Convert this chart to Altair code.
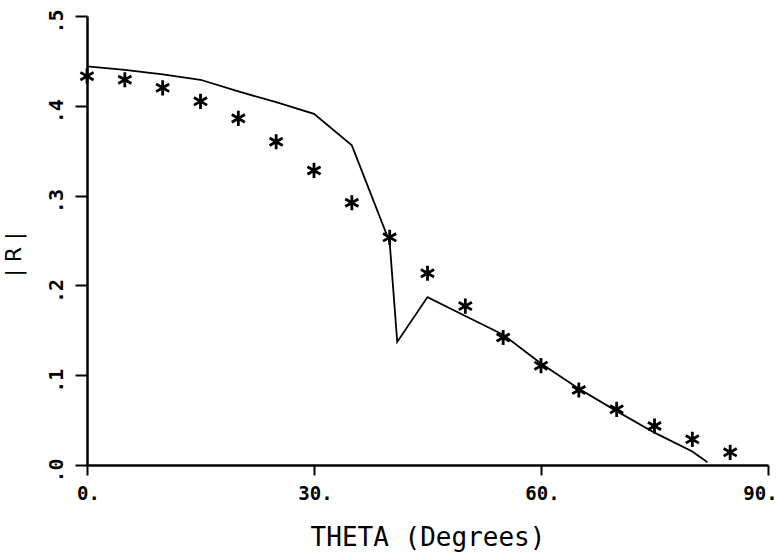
import altair as alt
import pandas as pd

# Curve (solid line)
line_theta = [0, 5, 10, 15, 20, 25, 30, 35, 40, 41, 45, 50, 55, 60, 65, 70, 75, 80, 82]
line_r = [0.444, 0.440, 0.435, 0.429, 0.416, 0.404, 0.391, 0.356, 0.248, 0.137,
          0.187, 0.166, 0.145, 0.113, 0.085, 0.060, 0.036, 0.015, 0.003]

# Asterisk points
pt_theta = [0, 5, 10, 15, 20, 25, 30, 35, 40, 45, 50, 55, 60, 65, 70, 75, 80, 85]
pt_r = [0.433, 0.429, 0.420, 0.405, 0.386, 0.360, 0.328, 0.292, 0.2535, 0.2135,
        0.177, 0.142, 0.1106, 0.0835, 0.062, 0.0434, 0.0286, 0.0141]

x_ticks = [0, 30, 60, 90]
y_ticks = [0, 0.1, 0.2, 0.3, 0.4, 0.5]

line_df = pd.DataFrame({"theta": line_theta, "r": line_r})
pt_df = pd.DataFrame({"theta": pt_theta, "r": pt_r})

FONT = "DejaVu Sans Mono"

x_enc = alt.X(
    "theta:Q",
    scale=alt.Scale(domain=[0, 90], nice=False, zero=False),
    axis=alt.Axis(
        values=x_ticks,
        labelExpr="datum.value + '.'",
        labelFlush=False,
        title="THETA  (Degrees)",
        titleFont=FONT, titleFontSize=26, titleFontWeight="normal",
        titleColor="black", titlePadding=21,
        labelFont=FONT, labelFontSize=19, labelFontWeight="bold", labelColor="black",
        labelPadding=9,
        labelOffset={"condition": {"test": "datum.value == 90", "value": -8}, "value": 1},
        tickSize=10, tickWidth=2, tickColor="black",
        domainColor="black", domainWidth=2.5,
        grid=False,
    ),
)
y_enc = alt.Y(
    "r:Q",
    scale=alt.Scale(domain=[0, 0.5], nice=False, zero=False),
    axis=alt.Axis(
        values=y_ticks,
        labelExpr="replace(format(datum.value, '.1f'), '0.', '.')",
        labelFlush=False,
        title="| R |",
        titleFont="DejaVu Sans", titleFontSize=22, titleFontWeight="normal",
        titleColor="black", titleX=-62, titleY=238,
        labelFont=FONT, labelFontSize=20, labelFontWeight="bold", labelColor="black",
        labelAngle=270, labelPadding=9, labelOffset=5,
        tickSize=12, tickWidth=2, tickColor="black",
        domainColor="black", domainWidth=2.5,
        grid=False,
    ),
)

line = alt.Chart(line_df).mark_line(color="black", strokeWidth=1.8).encode(
    x=x_enc, y=y_enc, order="theta:Q"
)

star_path = "M0,-1L0,1M-0.866,-0.5L0.866,0.5M-0.866,0.5L0.866,-0.5"
points = alt.Chart(pt_df).mark_point(
    shape=star_path, filled=False, stroke="black", strokeWidth=2.8, size=230, opacity=1
).encode(x="theta:Q", y="r:Q")

chart = (
    alt.layer(line, points)
    .properties(
        width=681,
        height=449,
        autosize=alt.AutoSizeParams(type="none"),
        padding={"left": 87, "top": 16, "right": 15, "bottom": 91},
        background="white",
    )
    .configure_view(stroke=None)
)

chart.save("out.html", embed_options={"renderer": "svg", "actions": False})
